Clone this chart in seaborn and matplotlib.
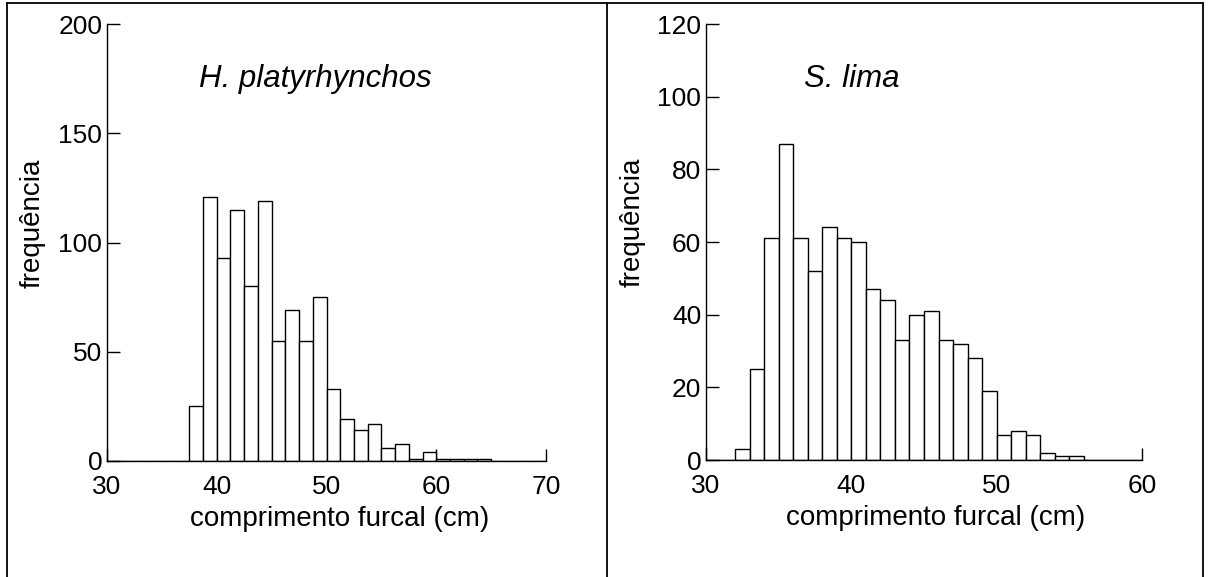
import numpy as np
import pandas as pd
import matplotlib
matplotlib.use("Agg")
import matplotlib.pyplot as plt
import seaborn as sns
from matplotlib.lines import Line2D

# ---------------- data ----------------
# H. platyrhynchos : 1.25 cm classes from 30 to 70 cm
hp_bin_width = 1.25
hp_range = (30, 70)
hp_counts = [0, 0, 0, 0, 0, 0, 25, 121, 93, 115, 80, 119, 55, 69, 55, 75,
             33, 19, 14, 17, 6, 8, 1, 4, 1, 1, 1, 1, 0, 0, 0, 0]
hp_xticks = [30, 40, 50, 60, 70]
hp_yticks = [0, 50, 100, 150, 200]
hp_title = "H. platyrhynchos"

# S. lima : 1 cm classes from 30 to 60 cm
sl_bin_width = 1.0
sl_range = (30, 60)
sl_counts = [0, 0, 3, 25, 61, 87, 61, 52, 64, 61, 60, 47, 44, 33, 40, 41,
             33, 32, 28, 19, 7, 8, 7, 2, 1, 1, 0, 0, 0, 0]
sl_xticks = [30, 40, 50, 60]
sl_yticks = [0, 20, 40, 60, 80, 100, 120]
sl_title = "S. lima"

xlabel = "comprimento furcal (cm)"
ylabel = "frequência"

# ---------------- style ----------------
sns.set_style("ticks")
plt.rcParams["font.family"] = ["Liberation Sans", "DejaVu Sans"]
plt.rcParams.update({
    "axes.linewidth": 1.0,
    "text.color": "black",
    "axes.labelcolor": "black",
    "axes.edgecolor": "black",
    "xtick.color": "black",
    "ytick.color": "black",
})

W, H = 1209, 577
fig = plt.figure(figsize=(W / 100, H / 100), dpi=100)


def panel(rect, counts, width, rng, xticks, yticks, title, title_pos, xl_pos, yl_pos):
    ax = fig.add_axes(rect)
    n = len(counts)
    centers = rng[0] + width * (np.arange(n) + 0.5)
    df = pd.DataFrame({"x": centers, "n": np.asarray(counts, dtype=float)})
    sns.histplot(data=df, x="x", weights="n", binwidth=width, binrange=rng, ax=ax,
                 color="white", edgecolor="black", linewidth=1.0, alpha=1.0)
    ax.set_xlim(rng)
    ax.set_ylim(yticks[0], yticks[-1])
    ax.set_xticks(xticks)
    ax.set_yticks(yticks)
    sns.despine(ax=ax)
    ax.tick_params(axis="both", direction="in", length=9, width=1.0,
                   labelsize=19, color="black", labelcolor="black")
    ax.tick_params(axis="x", pad=10)
    ax.tick_params(axis="y", pad=3.5)
    ax.set_xlabel(xlabel, fontsize=20, color="black")
    ax.set_ylabel(ylabel, fontsize=20, color="black")
    ax.xaxis.set_label_coords(*xl_pos)
    ax.yaxis.set_label_coords(*yl_pos)
    ax.text(title_pos[0], title_pos[1], title, transform=ax.transAxes,
            ha="center", va="baseline", fontsize=22.5, style="italic", color="black")
    return ax


panel([107 / W, 1 - 461 / H, 439 / W, 437 / H], hp_counts, hp_bin_width, hp_range,
      hp_xticks, hp_yticks, hp_title, (0.474, 0.856), (0.530, -0.103), (-0.139, 0.545))
panel([706 / W, 1 - 460 / H, 436 / W, 436 / H], sl_counts, sl_bin_width, sl_range,
      sl_xticks, sl_yticks, sl_title, (0.335, 0.856), (0.526, -0.103), (-0.138, 0.545))

# frame around the two panels
lw = 1.3
top = 1 - 3 / H
for xs, ys in [([7 / W, 7 / W], [0, top]),
               ([1203 / W, 1203 / W], [0, top]),
               ([607 / W, 607 / W], [0, top]),
               ([7 / W, 1203 / W], [top, top])]:
    fig.add_artist(Line2D(xs, ys, color="black", linewidth=lw))

fig.savefig("out.png", dpi=100)
